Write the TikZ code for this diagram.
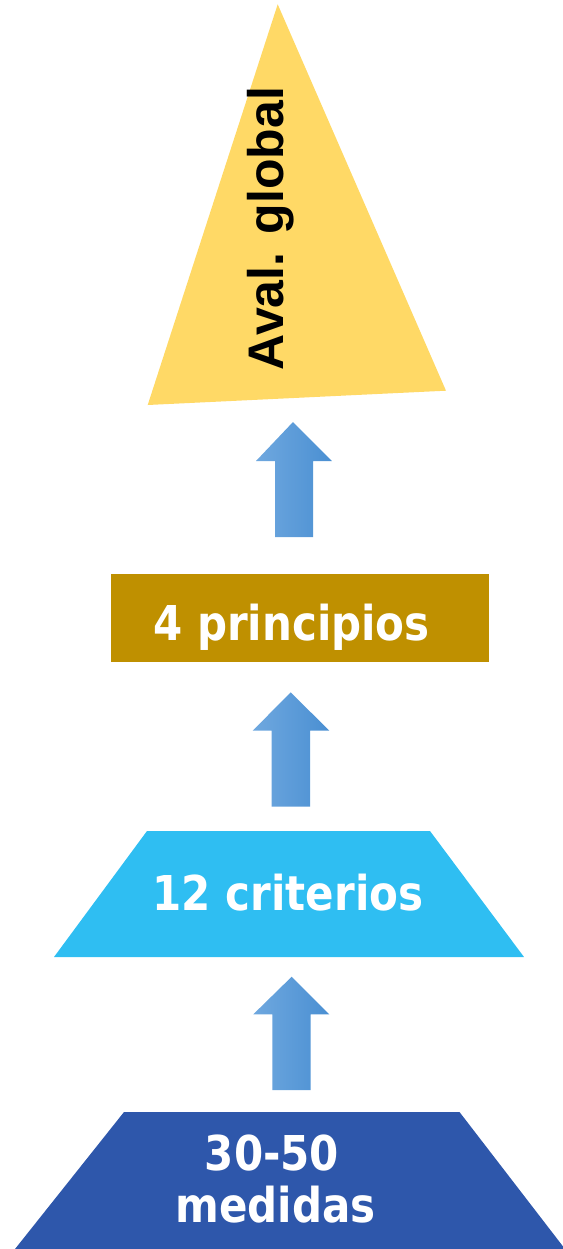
\documentclass[tikz,border=0pt]{standalone}
\usepackage{fontspec}
\setmainfont{Liberation Sans}
\newfontfamily\tah[FakeStretch=0.875]{DejaVu Sans}
\definecolor{cyellow}{HTML}{FFD966}
\definecolor{cgold}{HTML}{BF9000}
\definecolor{ccyan}{HTML}{2FBEF2}
\definecolor{cdark}{HTML}{2E57AB}
\definecolor{arrL}{HTML}{6FA8DF}
\definecolor{arrR}{HTML}{4A8FD2}
\tikzset{
  lbl/.style={inner sep=0pt, anchor=base, text=white, font=\tah\bfseries\fontsize{36pt}{39pt}\selectfont},
  upar/.style={left color=arrL, right color=arrR},
}
\begin{document}
\begin{tikzpicture}[x=0.75pt,y=-0.75pt]
\useasboundingbox (0,0) rectangle (562,1249);
% top triangle
\fill[cyellow] (277.7,4.3) -- (446,390.7) -- (147.7,405) -- cycle;
\node[inner sep=0pt, anchor=base, rotate=90, font=\bfseries\fontsize{37.5pt}{40pt}\selectfont] (aval) at (283.5,228.5) {Aval. global};
% arrow 1
\shade[upar] (293,422) -- (332,461) -- (313,461) -- (313,537) -- (275,537) -- (275,461) -- (256,461) -- cycle;
% rectangle
\fill[cgold] (111,574) rectangle (489,662);
\node[lbl] (princ) at (291.5,640) {4 principios};
% arrow 2
\shade[upar] (290.7,692.3) -- (329.3,730.7) -- (310,730.7) -- (310,806.7) -- (271.7,806.7) -- (271.7,730.7) -- (252.7,730.7) -- cycle;
% trapezoid 1
\fill[ccyan] (147,831) -- (430,831) -- (524,957) -- (54,957) -- cycle;
\node[lbl] (crit) at (288,910) {12 criterios};
% arrow 3
\shade[upar] (291.7,976.7) -- (329.3,1014.3) -- (310.7,1014.3) -- (310.7,1090) -- (272.3,1090) -- (272.3,1014.3) -- (253.3,1014.3) -- cycle;
% trapezoid 2
\fill[cdark] (124,1112) -- (459.5,1112) -- (565,1249) -- (15,1249) -- cycle;
\node[lbl] (num) at (272,1170) {30-50};
\node[lbl] (med) at (275.5,1222) {medidas};
\end{tikzpicture}
\end{document}
